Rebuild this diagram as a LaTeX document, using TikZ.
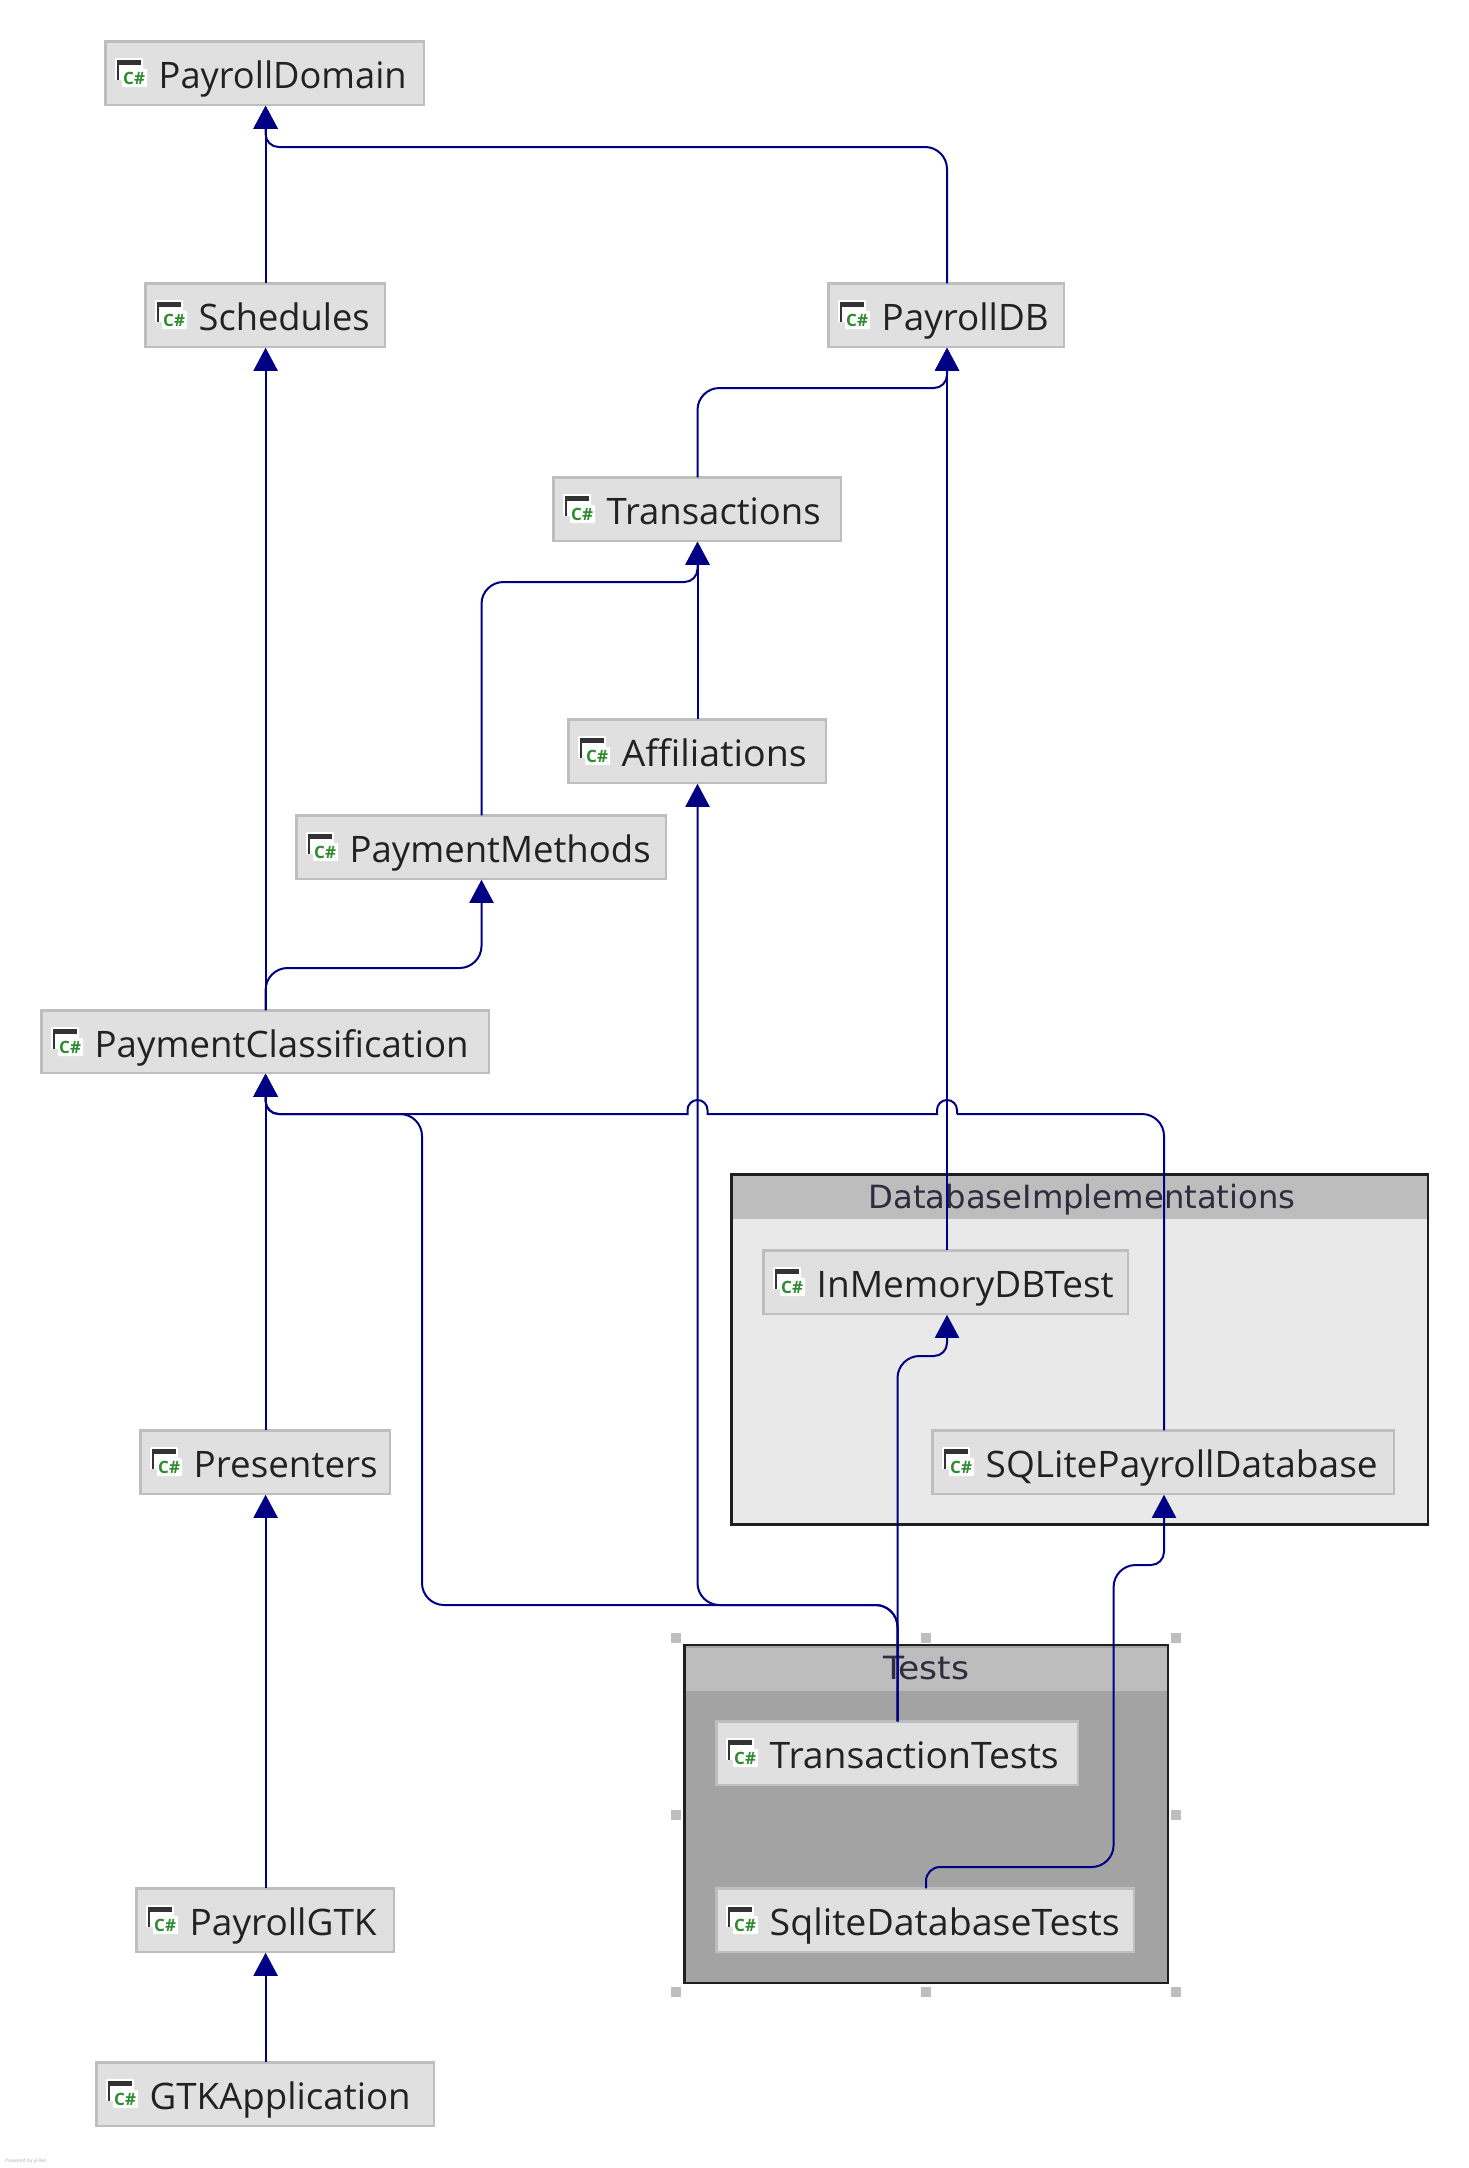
\documentclass[tikz,border=0pt]{standalone}
\usepackage{fontspec}
\usepackage{graphicx}
\setmainfont{Open Sans}
\newfontfamily\grpfont{DejaVu Sans}
\usetikzlibrary{arrows.meta}
\definecolor{edgeblue}{HTML}{000085}
\definecolor{nodefill}{HTML}{E0E0E0}
\definecolor{nodeline}{HTML}{BEBEBE}
\definecolor{txt}{HTML}{222222}
\definecolor{grptxt}{HTML}{2D2D3F}
\definecolor{iconbar}{HTML}{333333}
\definecolor{icongreen}{HTML}{2F8B30}
\tikzset{
  cls/.style={draw=nodeline,fill=nodefill,line width=2.5pt,rectangle,inner sep=0pt,outer sep=0pt},
  clstext/.style={anchor=base west,inner sep=0pt,text=txt},
  grpbody/.style={rectangle,inner sep=0pt,outer sep=0pt,draw=black!88,line width=2.5pt},
  grphead/.style={rectangle,inner sep=0pt,outer sep=0pt},
  grptitle/.style={anchor=base,inner sep=0pt,text=grptxt,font=\grpfont\fontsize{32}{32}\selectfont},
  handle/.style={rectangle,fill=nodeline,minimum size=9.5pt,inner sep=0pt,outer sep=0pt},
  edge/.style={draw=edgeblue,line width=2pt,rounded corners=22pt},
  dep/.style={edge,-{Triangle[length=23pt,width=24pt]},shorten >=1pt},
  csharp/.style={anchor=base west,inner sep=0pt,text=icongreen,font=\bfseries\fontsize{17}{17}\selectfont},
}
% name, left, top, right, bottom, label, label width
\newcommand{\clsnode}[7]{%
  \pgfmathsetmacro{\nw}{#4-#2-0.5}\pgfmathsetmacro{\nh}{#5-#3-0.5}%
  \node[cls,minimum width=\nw pt,minimum height=\nh pt] (#1) at ({(#2+#4)/2},{(#3+#5)/2}) {};
  \node[clstext] (#1-label) at ({#2+53.5},{#3+47}) {\resizebox{#7pt}{\height}{\fontsize{36.5}{36.5}\selectfont #6}};
  \fill[white,rounded corners=1pt] ({#2+10},{#3+17}) rectangle ({#2+38},{#3+39});
  \fill[white,rounded corners=1pt] ({#2+17},{#3+28}) rectangle ({#2+42},{#3+46});
  \fill[iconbar] ({#2+12},{#3+19}) rectangle ({#2+36},{#3+24});
  \fill[iconbar] ({#2+12},{#3+24}) rectangle ({#2+14},{#3+39});
  \node[csharp] (#1-icon) at ({#2+18},{#3+43}) {C\#};
}
\begin{document}
\begin{tikzpicture}[x=1pt,y=-1pt]
\useasboundingbox[fill=white] (0,0) rectangle (1468,2168);

% groups
\node[grpbody,fill=black!8.5,minimum width=696.5pt,minimum height=350pt] (dbgroup) at (1079.8,1349.5) {};
\node[grphead,fill=black!26,minimum width=694pt,minimum height=43pt] (dbhead) at (1079.8,1197) {};
\node[grptitle] (dbtitle) at (1082,1208) {\resizebox{427pt}{\height}{DatabaseImplementations}};

\node[grpbody,fill=black!36,minimum width=483.5pt,minimum height=338pt] (testgroup) at (926,1814) {};
\node[grphead,fill=black!26,minimum width=481pt,minimum height=43pt] (testhead) at (926,1669) {};
\node[grptitle] (testtitle) at (926,1679) {\resizebox{86pt}{\height}{Tests}};

% selection handles
\foreach \hx/\hy [count=\i] in {676/1638,926/1638,1176/1638,676/1815,1176/1815,676/1992,926/1992,1176/1992}
  \node[handle] (h\i) at (\hx,\hy) {};

% classes
\clsnode{domain}{105}{41}{424}{105}{PayrollDomain}{248}
\clsnode{schedules}{145}{283}{385}{347}{Schedules}{171}
\clsnode{payrolldb}{828}{283}{1064}{347}{PayrollDB}{167}
\clsnode{transactions}{553}{477}{841}{541}{Transactions}{214}
\clsnode{affiliations}{568}{719}{826}{783}{Affiliations}{185}
\clsnode{methods}{296}{815}{666}{879}{PaymentMethods}{301}
\clsnode{classification}{41}{1010}{489}{1073}{PaymentClassification}{374}
\clsnode{presenters}{140}{1430}{390}{1494}{Presenters}{184}
\clsnode{gtk}{136}{1888}{394}{1952}{PayrollGTK}{187}
\clsnode{gtkapp}{96}{2062}{434}{2126}{GTKApplication}{261}
\clsnode{inmemory}{763}{1250}{1128}{1314}{InMemoryDBTest}{297}
\clsnode{sqlite}{932}{1430}{1394}{1494}{SQLitePayrollDatabase}{392}
\clsnode{ttests}{716}{1721}{1078}{1785}{TransactionTests}{289}
\clsnode{stests}{716}{1888}{1134}{1952}{SqliteDatabaseTests}{350}

% routing columns and rows
\coordinate (cA) at (265.6,0);
\coordinate (cB) at (422,0);
\coordinate (cC) at (481.5,0);
\coordinate (cD) at (697.5,0);
\coordinate (cE) at (897.5,0);
\coordinate (cF) at (926,0);
\coordinate (cG) at (947,0);
\coordinate (cH) at (1113.6,0);
\coordinate (cI) at (1164,0);
\coordinate (rA) at (0,147);
\coordinate (rB) at (0,388);
\coordinate (rC) at (0,582);
\coordinate (rD) at (0,968);
\coordinate (rE) at (0,1114);
\coordinate (rF) at (0,1356);
\coordinate (rG) at (0,1565);
\coordinate (rH) at (0,1605);
\coordinate (rI) at (0,1867);
\coordinate (bridgeG) at (957,1114);
\coordinate (bridgeD) at (707.5,1114);
\coordinate (bridgeEnd) at (680,1114);

% connectors
\draw[dep] (schedules.north -| cA) -- (domain.south -| cA);
\draw[dep] (payrolldb.north -| cG) -- (cG |- rA) [rounded corners=13pt] -- (cA |- rA) -- (domain.south -| cA);
\draw[dep] (classification.north -| cA) -- (schedules.south -| cA);
\draw[dep] (classification.north -| cA) -- (cA |- rD) -- (cC |- rD) -- (methods.south -| cC);
\draw[dep] (transactions.north -| cD) -- (cD |- rB) [rounded corners=13pt] -- (cG |- rB) -- (payrolldb.south -| cG);
\draw[dep] (inmemory.north -| cG) -- (payrolldb.south -| cG);
\draw[dep] (affiliations.north -| cD) -- (transactions.south -| cD);
\draw[dep] (methods.north -| cC) -- (cC |- rC) [rounded corners=13pt] -- (cD |- rC) -- (transactions.south -| cD);
\draw[dep] (presenters.north -| cA) -- (classification.south -| cA);
\draw[dep] (gtk.north -| cA) -- (presenters.south -| cA);
\draw[dep] (gtkapp.north -| cA) -- (gtk.south -| cA);
% SQLite to PaymentClassification, hopping over two verticals
\draw[edge] (sqlite.north -| cI) -- (cI |- rE) -- (bridgeG);
\draw[edge,sharp corners] (bridgeG) -- ++(0,-4) arc[start angle=0,end angle=-180,radius=10] -- ++(0,4) -- (bridgeD) -- ++(0,-4) arc[start angle=0,end angle=-180,radius=10] -- ++(0,4) -- (bridgeEnd);
\draw[dep,rounded corners=13pt] (bridgeEnd) -- (cA |- rE) -- (classification.south -| cA);
\draw[dep] (ttests.north -| cE) -- (cE |- rH) -- (cB |- rH) -- (cB |- rE) [rounded corners=13pt] -- (cA |- rE) -- (classification.south -| cA);
\draw[dep] (ttests.north -| cE) -- (cE |- rH) -- (cD |- rH) -- (affiliations.south -| cD);
\draw[dep] (ttests.north -| cE) -- (cE |- rF) [rounded corners=13pt] -- (cG |- rF) -- (inmemory.south -| cG);
\draw[dep,rounded corners=14pt] (stests.north -| cF) -- (cF |- rI) [rounded corners=22pt] -- (cH |- rI) -- (cH |- rG) [rounded corners=13pt] -- (cI |- rG) -- (sqlite.south -| cI);

\node[anchor=base west,inner sep=0pt,text=black!30,font=\fontsize{5}{5}\selectfont] (powered) at (5,2162) {Powered by yFiles};
\end{tikzpicture}
\end{document}
